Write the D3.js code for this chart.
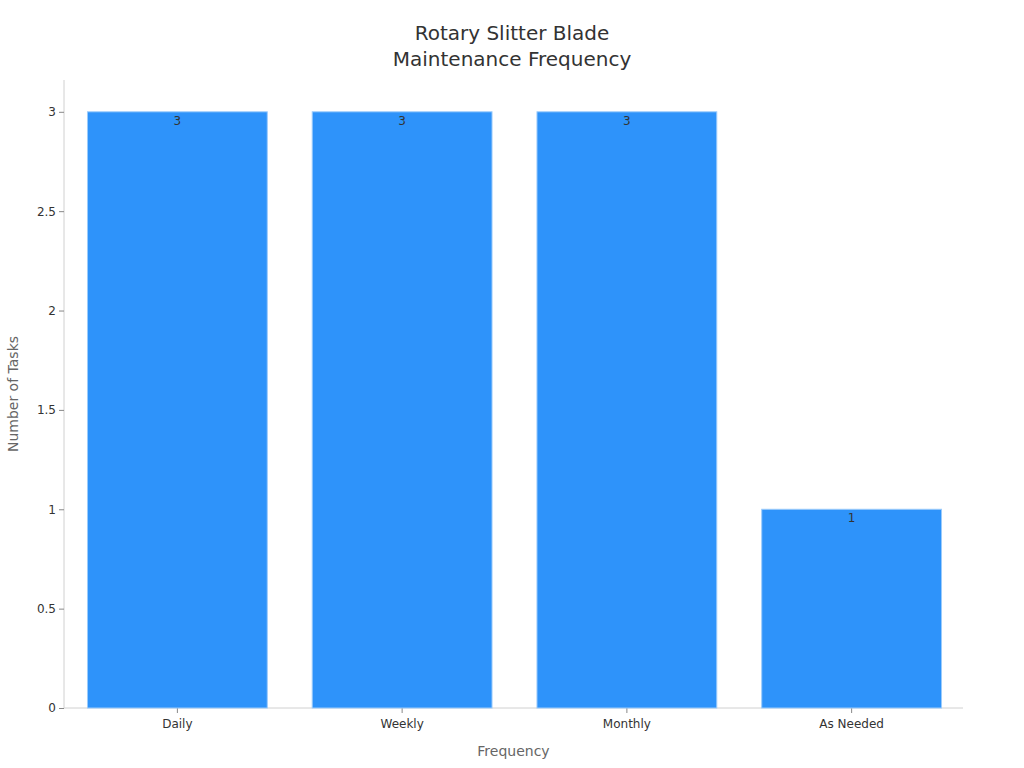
<!DOCTYPE html>
<html>
<head>
<meta charset="utf-8">
<script src="https://cdn.jsdelivr.net/npm/d3@7"></script>
<style>
  body { margin: 0; background: #fff; }
  svg, svg text { font-family: "DejaVu Sans", sans-serif; }
</style>
</head>
<body>
<svg id="chart"></svg>
<script>
// Chart data
const categories = ["Daily", "Weekly", "Monthly", "As Needed"];
const taskCounts = [3, 3, 3, 1];
const yTicks = [0, 0.5, 1, 1.5, 2, 2.5, 3];

const margin = { top: 80, right: 61, bottom: 60, left: 64 };
const width = 1024 - margin.left - margin.right;
const height = 768 - margin.top - margin.bottom;

const svg = d3.select("#chart")
  .attr("width", 1024)
  .attr("height", 768);

const g = svg.append("g")
  .attr("transform", `translate(${margin.left},${margin.top})`);

// Scales
const x = d3.scaleBand()
  .domain(categories)
  .range([1, width + 1])
  .paddingInner(0.2)
  .paddingOuter(0.1);

const y = d3.scaleLinear()
  .domain([0, 3.16])
  .range([height, 0]);

// Y axis
const yAxis = g.append("g")
  .call(d3.axisLeft(y).tickValues(yTicks).tickSize(5).tickPadding(3).tickFormat(d3.format("")));
yAxis.attr("font-family", null);
yAxis.select(".domain").attr("stroke", "#d0d0d0").attr("d", `M0,0V${height}`);
yAxis.selectAll(".tick line").attr("stroke", "#888");
yAxis.selectAll(".tick text").attr("fill", "#333").style("font-size", "12px");

// X axis
const xAxis = g.append("g")
  .attr("transform", `translate(0,${height})`)
  .call(d3.axisBottom(x).tickSize(5).tickPadding(6));
xAxis.attr("font-family", null);
xAxis.select(".domain").attr("stroke", "#d0d0d0").attr("d", `M0,0H${width}`);
xAxis.selectAll(".tick line").attr("stroke", "#888");
xAxis.selectAll(".tick text").attr("fill", "#333").style("font-size", "12px");

// Bars
g.selectAll(".bar")
  .data(categories)
  .enter()
  .append("rect")
  .attr("class", "bar")
  .attr("x", d => x(d))
  .attr("y", (d, i) => y(taskCounts[i]))
  .attr("width", x.bandwidth())
  .attr("height", (d, i) => height - y(taskCounts[i]))
  .attr("fill", "#2e93fa")
  .attr("stroke", "#9ccbfb")
  .attr("stroke-width", 1);

// Value labels inside bar top
g.selectAll(".label")
  .data(categories)
  .enter()
  .append("text")
  .attr("x", d => x(d) + x.bandwidth() / 2)
  .attr("y", (d, i) => y(taskCounts[i]) + 13)
  .attr("text-anchor", "middle")
  .attr("fill", "#333")
  .style("font-size", "12px")
  .text((d, i) => taskCounts[i]);

// Axis titles
svg.append("text")
  .attr("x", margin.left + width / 2)
  .attr("y", 756)
  .attr("text-anchor", "middle")
  .attr("fill", "#666")
  .style("font-size", "14px")
  .text("Frequency");

svg.append("text")
  .attr("transform", `translate(18,${margin.top + height / 2}) rotate(-90)`)
  .attr("text-anchor", "middle")
  .attr("fill", "#666")
  .style("font-size", "14px")
  .text("Number of Tasks");

// Title
const title = svg.append("text")
  .attr("x", 512)
  .attr("text-anchor", "middle")
  .attr("fill", "#333")
  .style("font-size", "20px");
title.append("tspan").attr("x", 512).attr("y", 40).text("Rotary Slitter Blade");
title.append("tspan").attr("x", 512).attr("y", 66).text("Maintenance Frequency");
</script>
</body>
</html>
